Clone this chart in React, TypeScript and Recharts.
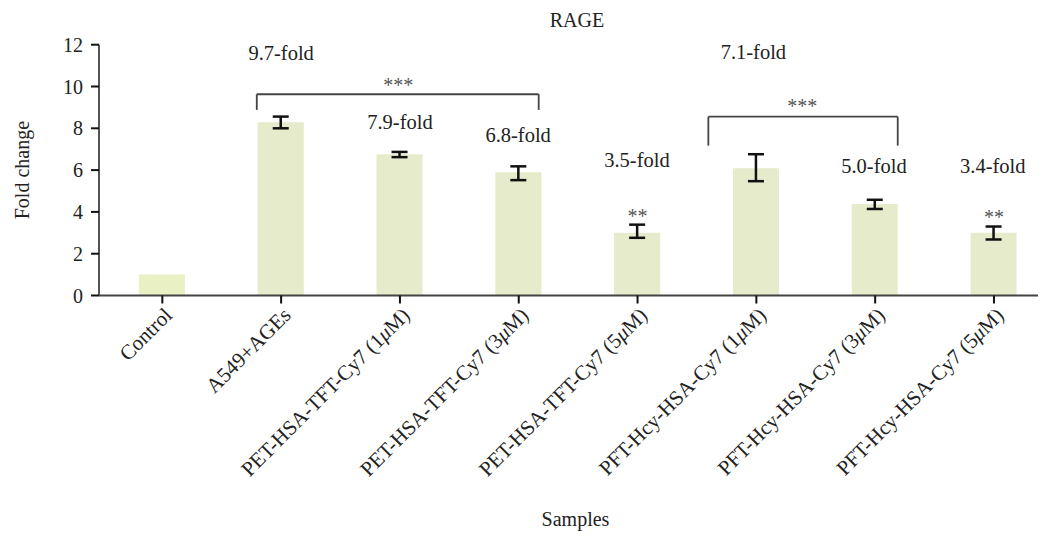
import React from 'react';
import { BarChart, Bar, XAxis, YAxis, ErrorBar, Cell, ReferenceDot, ReferenceLine } from 'recharts';

// Sample groups along the x axis
const categories = [
  'Control',
  'A549+AGEs',
  'PET-HSA-TFT-Cy7 (1μM)',
  'PET-HSA-TFT-Cy7 (3μM)',
  'PET-HSA-TFT-Cy7 (5μM)',
  'PFT-Hcy-HSA-Cy7 (1μM)',
  'PFT-Hcy-HSA-Cy7 (3μM)',
  'PFT-Hcy-HSA-Cy7 (5μM)',
];

// RAGE expression, fold change relative to control
const foldChange = [1.0, 8.29, 6.76, 5.9, 3.0, 6.09, 4.38, 3.0];
// Upper / lower error extents
const errUp = [null, 0.27, 0.11, 0.28, 0.39, 0.67, 0.2, 0.3];
const errDown = [null, 0.29, 0.14, 0.38, 0.24, 0.62, 0.24, 0.32];

// Fold annotations printed above each group
const foldLabels = ['', '9.7-fold', '7.9-fold', '6.8-fold', '3.5-fold', '7.1-fold', '5.0-fold', '3.4-fold'];

const yTicks = [0, 2, 4, 6, 8, 10, 12];

const FONT = '"Liberation Serif", "Times New Roman", serif';
const TEXT = '#222';

const data = categories.map((name, i) => ({
  idx: i,
  name,
  value: foldChange[i],
  err: errUp[i] == null ? undefined : [errDown[i], errUp[i]],
}));

const CategoryTick = (props: any) => {
  const { x, y, payload } = props;
  const label = categories[payload.value] ?? '';
  const bx = x + 11;
  const by = y + 11;
  const parts = label.split('μ');
  return (
    <text
      x={bx}
      y={by}
      textAnchor="end"
      transform={`rotate(-45, ${bx}, ${by})`}
      fontFamily={FONT}
      fontSize={21}
      fill={TEXT}
    >
      {parts.length > 1 ? (
        <>
          <tspan>{parts[0]}</tspan>
          <tspan fontStyle="italic">μ</tspan>
          <tspan>{parts[1]}</tspan>
        </>
      ) : (
        label
      )}
    </text>
  );
};

const YTitle = (props: any) => {
  const { viewBox } = props;
  const cx = viewBox.x + 21.5;
  const cy = viewBox.y + viewBox.height / 2;
  return (
    <text
      x={cx}
      y={cy}
      textAnchor="middle"
      transform={`rotate(-90, ${cx}, ${cy})`}
      fontFamily={FONT}
      fontSize={20}
      fill={TEXT}
    >
      Fold change
    </text>
  );
};

// label heights (in fold-change units) for the annotation text
const foldLabelY = [0, 11.6, 8.32, 7.68, 6.48, 11.66, 6.2, 6.2];
const foldLabelX = [0, 1, 2, 2.995, 3.995, 4.975, 5.99, 6.99];

const bracketStroke = '#444';

export default function App() {
  return (
    <BarChart
      width={1038}
      height={529}
      data={data}
      margin={{ top: 36.7, right: 0, bottom: 0, left: 0 }}
      style={{ fontFamily: FONT }}
    >
      <text x={569} y={18.7} textAnchor="middle" fontFamily={FONT} fontSize={20} fill={TEXT}>
        RAGE
      </text>
      <XAxis
        dataKey="idx"
        type="number"
        domain={[-0.533, 7.438]}
        allowDataOverflow
        ticks={[0, 1, 2, 3, 4, 5, 6, 7]}
        interval={0}
        height={241.5}
        tick={<CategoryTick />}
        tickSize={8}
        tickMargin={2}
        axisLine={{ stroke: '#444', strokeWidth: 2 }}
        tickLine={{ stroke: '#111', strokeWidth: 2 }}
        label={{
          value: 'Samples',
          position: 'insideBottom',
          offset: 11,
          dx: 3,
          fontFamily: FONT,
          fontSize: 20,
          fill: TEXT,
        }}
      />
      <YAxis
        type="number"
        domain={[0, 12]}
        ticks={yTicks}
        width={91}
        tickSize={8}
        tickMargin={8}
        axisLine={{ stroke: '#555', strokeWidth: 2 }}
        tickLine={{ stroke: '#111', strokeWidth: 2 }}
        tick={{ fontFamily: FONT, fontSize: 20, fill: TEXT }}
        label={{ content: <YTitle /> }}
      />
      <Bar dataKey="value" barSize={46} isAnimationActive={false}>
        {data.map((d, i) => (
          <Cell key={d.name} fill={i === 0 ? '#e8f0c4' : '#e5ebcb'} />
        ))}
        <ErrorBar dataKey="err" direction="y" width={8} stroke="#111" strokeWidth={2.5} />
      </Bar>

      {/* significance bracket: A549+AGEs vs TFT probe (3μM) */}
      <ReferenceLine segment={[{ x: 0.795, y: 8.88 }, { x: 0.795, y: 9.63 }]} stroke={bracketStroke} strokeWidth={1.8} ifOverflow="visible" />
      <ReferenceLine segment={[{ x: 0.795, y: 9.63 }, { x: 3.168, y: 9.63 }]} stroke={bracketStroke} strokeWidth={1.8} ifOverflow="visible" />
      <ReferenceLine segment={[{ x: 3.168, y: 9.63 }, { x: 3.168, y: 8.88 }]} stroke={bracketStroke} strokeWidth={1.8} ifOverflow="visible" />
      <ReferenceDot x={1.985} y={10.07} r={0} fill="none" stroke="none" ifOverflow="visible"
        label={{ value: '***', position: 'center', fontFamily: FONT, fontSize: 20, fill: '#555' }} />

      {/* significance bracket: Hcy probe (1μM) vs (3μM) */}
      <ReferenceLine segment={[{ x: 4.596, y: 7.17 }, { x: 4.596, y: 8.555 }]} stroke={bracketStroke} strokeWidth={1.8} ifOverflow="visible" />
      <ReferenceLine segment={[{ x: 4.596, y: 8.555 }, { x: 6.19, y: 8.555 }]} stroke={bracketStroke} strokeWidth={1.8} ifOverflow="visible" />
      <ReferenceLine segment={[{ x: 6.19, y: 8.555 }, { x: 6.19, y: 7.17 }]} stroke={bracketStroke} strokeWidth={1.8} ifOverflow="visible" />
      <ReferenceDot x={5.387} y={9.09} r={0} fill="none" stroke="none" ifOverflow="visible"
        label={{ value: '***', position: 'center', fontFamily: FONT, fontSize: 20, fill: '#555' }} />

      <ReferenceDot x={4} y={3.8} r={0} fill="none" stroke="none" ifOverflow="visible"
        label={{ value: '**', position: 'center', fontFamily: FONT, fontSize: 20, fill: '#555' }} />
      <ReferenceDot x={7} y={3.78} r={0} fill="none" stroke="none" ifOverflow="visible"
        label={{ value: '**', position: 'center', fontFamily: FONT, fontSize: 20, fill: '#555' }} />

      {foldLabels.map((t, i) =>
        t ? (
          <ReferenceDot
            key={t}
            x={foldLabelX[i]}
            y={foldLabelY[i]}
            r={0}
            fill="none"
            stroke="none"
            ifOverflow="visible"
            label={{ value: t, position: 'center', fontFamily: FONT, fontSize: 20.5, fill: TEXT }}
          />
        ) : null
      )}
    </BarChart>
  );
}
